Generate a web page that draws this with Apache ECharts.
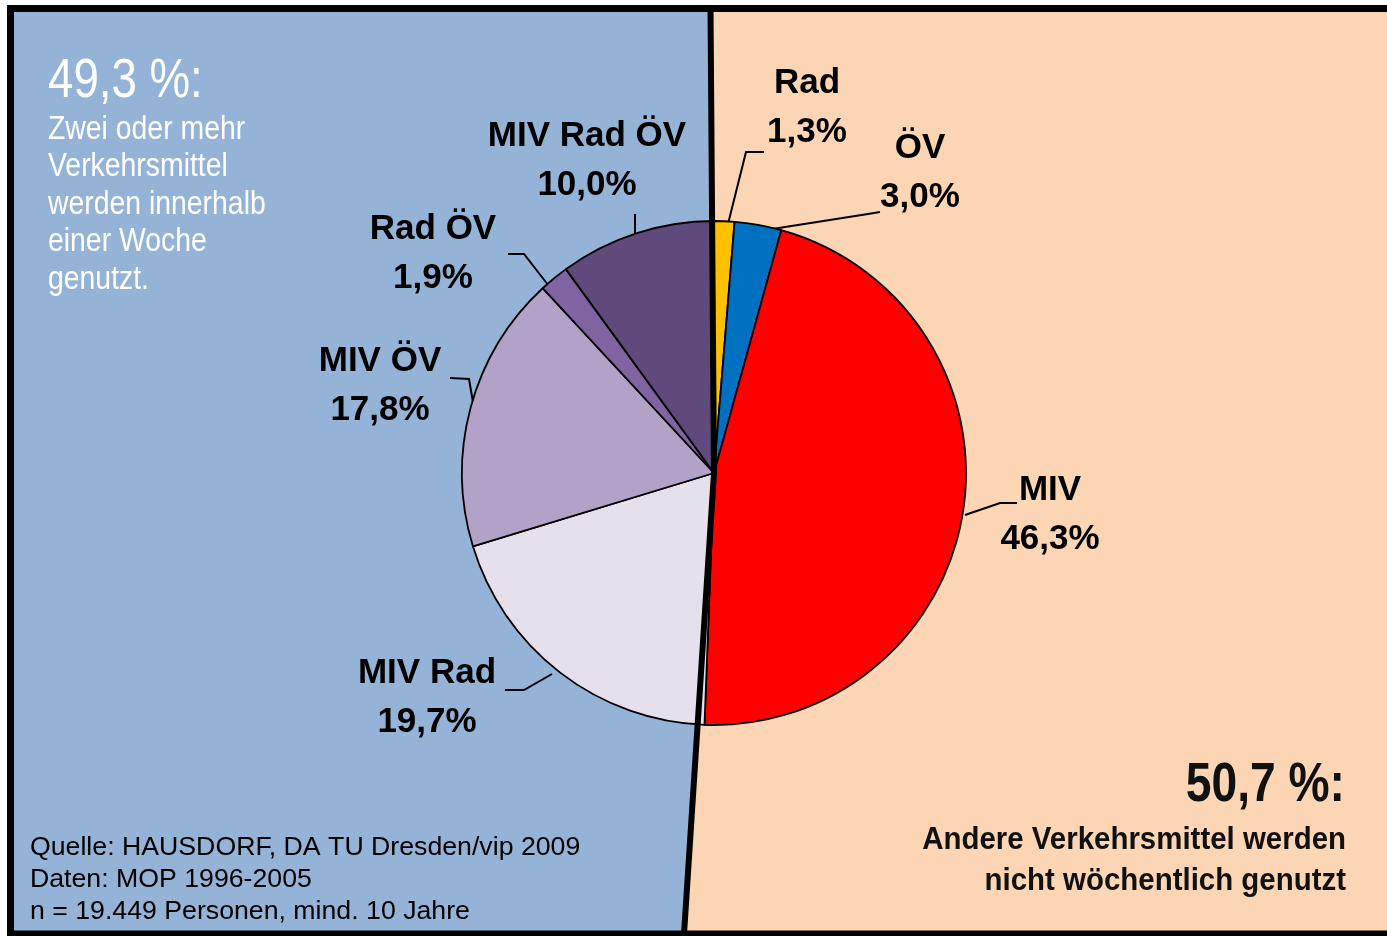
<!DOCTYPE html>
<html>
<head>
<meta charset="utf-8">
<script src="https://cdn.jsdelivr.net/npm/echarts@6/dist/echarts.min.js"></script>
<style>
  html, body { margin: 0; padding: 0; background: #fff; }
  #main { width: 1387px; height: 936px; }
</style>
</head>
<body>
<div id="main"></div>
<script>
var categories = ['Rad', 'ÖV', 'MIV', 'MIV Rad', 'MIV ÖV', 'Rad ÖV', 'MIV Rad ÖV'];
var shares = [1.3, 3.0, 46.3, 19.7, 17.8, 1.9, 10.0];
var shareMulti = '49,3 %:';
var shareSingle = '50,7 %:';

var sliceColors = ['#FFC000', '#0070C0', '#FF0000', '#E6E0EC', '#B3A2C7', '#8064A2', '#604A7B'];

// where each label block sits and how its leader runs
var labelSpots = [
  { x: 807, y: 108, line: [[727, 228], [746, 152], [764, 152]] },
  { x: 920, y: 173, line: [[766, 230], [868, 214], [880, 212]] },
  { x: 1050, y: 515, line: [[965, 515], [1000, 503], [1017, 503]] },
  { x: 427, y: 698, line: [[552, 674], [524, 690], [505, 690]] },
  { x: 380, y: 386, line: [[474, 408], [469, 379], [450, 378]] },
  { x: 433, y: 254, line: [[552, 290], [524, 254], [508, 254]] },
  { x: 587, y: 161, line: [[635, 236], [635, 228], [635, 214]] }
];

var sans = '"Liberation Sans", Arial, sans-serif';

var chart = echarts.init(document.getElementById('main'));

var pieData = categories.map(function (name, i) {
  return { name: name, value: shares[i], itemStyle: { color: sliceColors[i] } };
});

var option = {
  animation: false,
  graphic: [
    // backgrounds
    {
      type: 'polygon', z: -10, silent: true,
      shape: { points: [[14, 12], [711, 12], [714, 473], [684, 932], [14, 932]] },
      style: { fill: '#95B3D7' }
    },
    {
      type: 'polygon', z: -10, silent: true,
      shape: { points: [[711, 12], [1387, 12], [1387, 932], [684, 932], [714, 473]] },
      style: { fill: '#FCD5B5' }
    },
    // frame
    {
      type: 'polyline', z: -5, silent: true,
      shape: { points: [[1387, 8.5], [10.5, 8.5], [10.5, 934], [1387, 934]] },
      style: { stroke: '#000', lineWidth: 7, fill: null }
    },
    // divider on top of the pie
    {
      type: 'polyline', z: 100, silent: true,
      shape: { points: [[710.5, 8], [714, 473], [684, 934]] },
      style: { stroke: '#000', lineWidth: 6, fill: null, lineJoin: 'miter' }
    },
    // left note (condensed look)
    {
      type: 'text', z: 50, silent: true, x: 48, y: 54, scaleX: 0.83,
      style: { text: shareMulti, font: '55px ' + sans, fill: '#fff', verticalAlign: 'top' }
    },
    {
      type: 'text', z: 50, silent: true, x: 48, y: 111, scaleX: 0.86,
      style: {
        text: 'Zwei oder mehr\nVerkehrsmittel\nwerden innerhalb\neiner Woche\ngenutzt.',
        font: '33px ' + sans, fill: '#fff', lineHeight: 37.5, verticalAlign: 'top'
      }
    },
    // right note
    {
      type: 'text', z: 50, silent: true, x: 1345, y: 758, scaleX: 0.84,
      style: { text: shareSingle, font: 'bold 55px ' + sans, fill: '#111', align: 'right', verticalAlign: 'top' }
    },
    {
      type: 'text', z: 50, silent: true, x: 1346, y: 820, scaleX: 0.92,
      style: {
        text: 'Andere Verkehrsmittel werden\nnicht wöchentlich genutzt',
        font: 'bold 32px ' + sans, fill: '#111', align: 'right', lineHeight: 41, verticalAlign: 'top'
      }
    },
    // source
    {
      type: 'text', z: 50, silent: true, x: 30, y: 832,
      style: {
        text: 'Quelle: HAUSDORF, DA TU Dresden/vip 2009\nDaten: MOP 1996-2005\nn = 19.449 Personen, mind. 10 Jahre',
        font: '26.7px ' + sans, fill: '#000', lineHeight: 32, verticalAlign: 'top'
      }
    }
  ],
  series: [
    {
      type: 'pie',
      center: [714, 473],
      radius: 252,
      startAngle: 90,
      clockwise: true,
      avoidLabelOverlap: false,
      data: pieData,
      itemStyle: { borderColor: '#000', borderWidth: 1.8 },
      emphasis: { disabled: true },
      label: {
        show: true,
        position: 'outside',
        formatter: function (p) {
          return p.name + '\n' + p.value.toFixed(1).replace('.', ',') + '%';
        },
        fontFamily: sans,
        fontWeight: 'bold',
        fontSize: 35,
        lineHeight: 49,
        color: '#000',
        align: 'center'
      },
      labelLine: {
        show: true,
        smooth: false,
        lineStyle: { color: '#000', width: 2 }
      },
      labelLayout: function (params) {
        var s = labelSpots[params.dataIndex];
        return {
          x: s.x,
          y: s.y,
          align: 'center',
          verticalAlign: 'middle',
          labelLinePoints: s.line
        };
      }
    }
  ]
};

chart.setOption(option);
</script>
</body>
</html>
